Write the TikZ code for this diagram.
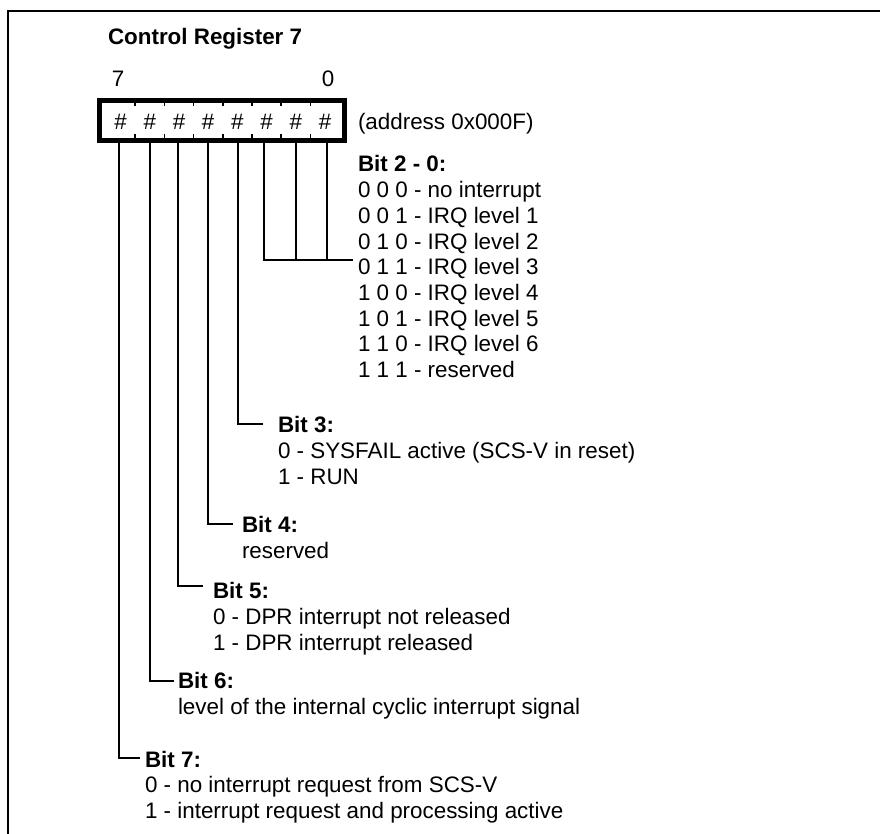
\documentclass[tikz,border=0pt]{standalone}
\usepackage{fontspec}
\setmainfont{Liberation Sans}
\newcommand\fsz{\fontsize{22.4}{25.7}\selectfont}
\tikzset{
  lbl/.style={anchor=base west,inner sep=0pt,outer sep=0pt,font=\fsz},
  hdr/.style={anchor=base west,inner sep=0pt,outer sep=0pt,font=\fsz\bfseries},
  hashlbl/.style={anchor=base,inner sep=0pt,outer sep=0pt,font=\fsz},
  wire/.style={line width=1.5pt},
  frameline/.style={line width=2pt},
  regbox/.style={draw,line width=5pt,minimum width=245pt,minimum height=40pt,inner sep=0pt,outer sep=0pt},
  celltick/.style={line width=1.5pt}
}
\begin{document}
\begin{tikzpicture}[x=1pt,y=-1pt]
\useasboundingbox (0,0) rectangle (880,834);
% outer frame (top and left only)
\coordinate (fr0) at (8,11);
\coordinate (fr1) at (880,11);
\coordinate (fr2) at (8,834);
\draw[frameline] (fr1) -- (fr0) -- (fr2);

% title and bit numbers
\node[hdr] (title) at (108,45) {Control Register 7};
\node[hashlbl] (n7) at (118,87) {7};
\node[hashlbl] (n0) at (328,87) {0};

% register box
\node[regbox] (reg) at (222,120.5) {};
\foreach \i in {1,...,7}{
  \pgfmathsetmacro\tx{106+29.2*\i}
  \draw[celltick] (\tx,103) -- (\tx,106.5);
  \draw[celltick] (\tx,138) -- (\tx,134.5);
}
\foreach \i in {0,...,7}{
  \pgfmathsetmacro\hx{120.6+29.2*\i}
  \node[hashlbl] (h\i) at (\hx,130) {\#};
}
\node[lbl] (addr) at (358,130) {(address 0x000F)};

% bit 2-0
\node[hdr] (b20) at (358,172) {Bit 2 - 0:};
\node[lbl] (b20a) at (358,197.7) {0 0 0 - no interrupt};
\node[lbl] (b20b) at (358,223.4) {0 0 1 - IRQ level 1};
\node[lbl] (b20c) at (358,249.1) {0 1 0 - IRQ level 2};
\node[lbl] (b20d) at (358,274.8) {0 1 1 - IRQ level 3};
\node[lbl] (b20e) at (358,300.5) {1 0 0 - IRQ level 4};
\node[lbl] (b20f) at (358,326.2) {1 0 1 - IRQ level 5};
\node[lbl] (b20g) at (358,351.9) {1 1 0 - IRQ level 6};
\node[lbl] (b20h) at (358,377.6) {1 1 1 - reserved};

% bit 3
\node[hdr] (b3) at (278,432) {Bit 3:};
\node[lbl] (b3a) at (278,458) {0 - SYSFAIL active (SCS-V in reset)};
\node[lbl] (b3b) at (278,484) {1 - RUN};

% bit 4
\node[hdr] (b4) at (242,532) {Bit 4:};
\node[lbl] (b4a) at (242,558) {reserved};

% bit 5
\node[hdr] (b5) at (213,598) {Bit 5:};
\node[lbl] (b5a) at (213,624) {0 - DPR interrupt not released};
\node[lbl] (b5b) at (213,650) {1 - DPR interrupt released};

% bit 6
\node[hdr] (b6) at (178,688) {Bit 6:};
\node[lbl] (b6a) at (178,714) {level of the internal cyclic interrupt signal};

% bit 7
\node[hdr] (b7) at (145,767) {Bit 7:};
\node[lbl] (b7a) at (145,792) {0 - no interrupt request from SCS-V};
\node[lbl] (b7b) at (145,818) {1 - interrupt request and processing active};

% leader lines
\coordinate (s7) at (119,142);
\coordinate (s6) at (150,142);
\coordinate (s5) at (178,142);
\coordinate (s4) at (208,142);
\coordinate (s3) at (238,142);
\coordinate (s2) at (264,142);
\coordinate (s1) at (296,142);
\coordinate (s0) at (327,142);
\coordinate (e20) at (353,260);
\coordinate (e3) at (263,424);
\coordinate (e4) at (233,524);
\coordinate (e5) at (203,586);
\coordinate (e6) at (174,681);
\coordinate (e7) at (140,758);

\draw[wire] (s2) |- (e20);
\draw[wire] (s1) -- (s1 |- e20);
\draw[wire] (s0) -- (s0 |- e20);
\draw[wire] (s3) |- (e3);
\draw[wire] (s4) |- (e4);
\draw[wire] (s5) |- (e5);
\draw[wire] (s6) |- (e6);
\draw[wire] (s7) |- (e7);
\end{tikzpicture}
\end{document}
